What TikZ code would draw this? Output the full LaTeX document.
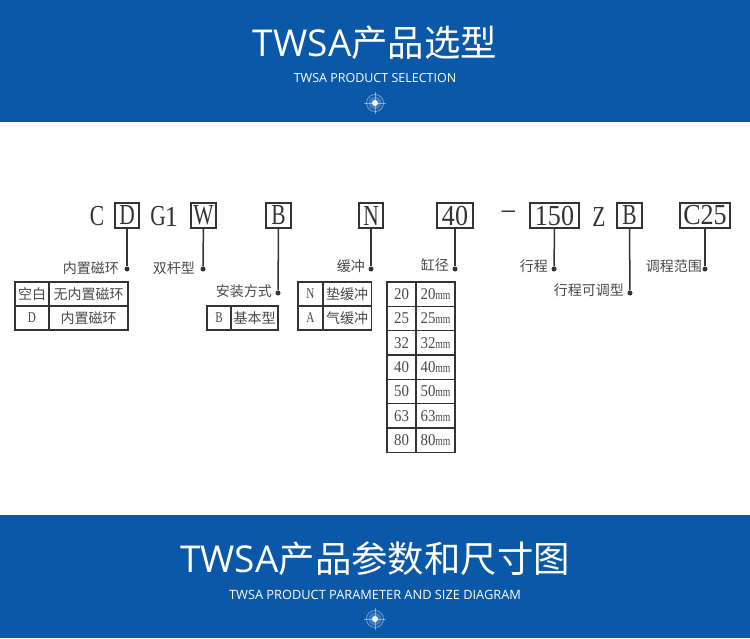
\documentclass[tikz,border=0pt]{standalone}
\usepackage{fontspec}
\setmainfont{Liberation Serif}
\newfontfamily\cjk{Noto Sans CJK SC}
\newfontfamily\titlefont{Open Sans}
\newfontfamily\letterfont{Liberation Serif}[FakeStretch=0.74]
\newfontfamily\digitfont{Liberation Serif}[FakeStretch=0.9]
\definecolor{band}{HTML}{0B57A8}
\definecolor{ink}{HTML}{333333}
\definecolor{softink}{HTML}{4A4A4A}
\usetikzlibrary{calc}
\tikzset{
  x=1pt,y=-1pt,
  bandbox/.style={fill=band,draw=none},
  title/.style={text=white,inner sep=0},
  subtitle/.style={text=white,inner sep=0},
  codebox/.style={draw=ink,line width=1.3pt,inner sep=0,text=ink,minimum height=25pt},
  codetext/.style={inner sep=0,text=ink},
  lead/.style={draw=ink,line width=1.5pt},
  tip/.style={circle,fill=ink,inner sep=0,minimum size=5pt},
  lab/.style={inner sep=0,text=softink,font=\fontsize{14}{14}\cjk},
  cell/.style={draw=ink,line width=1.3pt,inner sep=0,text=softink,font=\fontsize{14}{14}\cjk,minimum height=24pt},
  lettercell/.style={cell,font=\fontsize{15}{15}\letterfont},
  numcell/.style={cell,minimum height=24.3pt,font=\fontsize{16.5}{16.5}\digitfont},
}
\newcommand{\bigL}{\fontsize{29}{29}\letterfont}
\newcommand{\bigD}{\fontsize{29}{29}\digitfont}
\newcommand{\ttl}[2]{{\fontsize{37}{37}\titlefont #1}{\fontsize{36.4}{36.4}\cjk #2}}
\newcommand{\targeticon}[1]{%
  \fill[white,opacity=.22] (#1) circle (6.5);
  \fill[white,opacity=.95] (#1) circle (3);
  \draw[white,opacity=.45,line width=.8pt] (#1) circle (8.5);
  \draw[white,opacity=.45,line width=.8pt] ($(#1)+(-11,0)$) -- ($(#1)+(11,0)$) ($(#1)+(0,-11)$) -- ($(#1)+(0,11)$);
}
\begin{document}
\begin{tikzpicture}
\useasboundingbox (0,0) rectangle (750,638);
\fill[white] (0,0) rectangle (750,638);
\fill[bandbox] (0,0) rectangle (750,122);
\fill[bandbox] (0,515) rectangle (750,638);
\node[title] (t1) at (375,43) {\ttl{TWSA}{产品选型}};
\node[subtitle,font=\fontsize{12.5}{13}\titlefont] (s1) at (375,78.5) {TWSA PRODUCT SELECTION};
\coordinate (i1) at (375,103); \targeticon{i1}
\node[title] (t2) at (375,559) {\ttl{TWSA}{产品参数和尺寸图}};
\node[subtitle,font=\fontsize{12.8}{13}\titlefont] (s2) at (375,594.5) {TWSA PRODUCT PARAMETER AND SIZE DIAGRAM};
\coordinate (i2) at (375,619); \targeticon{i2}

% code line
\node[codetext,font=\bigL] (cC) at (97,216.5) {C};
\node[codebox,minimum width=24pt,font=\bigL] (bD) at (127,215.5) {D};
\node[codetext,font=\bigL] (cG) at (158,216.5) {G};
\node[codetext,font=\bigD] (c1) at (171.5,216.5) {1};
\node[codebox,minimum width=25pt,font=\bigL] (bW) at (203.5,215.5) {W};
\node[codebox,minimum width=25pt,font=\bigL] (bB) at (278.5,215.5) {B};
\node[codebox,minimum width=24pt,font=\bigL] (bN) at (371,215.5) {N};
\node[codebox,minimum width=36pt,font=\bigD] (b40) at (455,215.5) {40};
\node[codetext,font=\bigD] (cd) at (508.5,215) {–};
\node[codebox,minimum width=49pt,font=\bigD] (b150) at (554.5,215.5) {150};
\node[codetext,font=\bigL] (cZ) at (599,216.5) {Z};
\node[codebox,minimum width=25pt,font=\bigL] (bB2) at (629.5,215.5) {B};
\node[codebox,minimum width=50pt,font=\bigD] (bC) at (705,215.5) {C25};

% leader dots
\node[tip] (dD) at (127,269) {};
\node[tip] (dW) at (203,269) {};
\node[tip] (dB) at (278,293) {};
\node[tip] (dN) at (371,269) {};
\node[tip] (d40) at (455,269) {};
\node[tip] (d150) at (554,269) {};
\node[tip] (dB2) at (630,293) {};
\node[tip] (dC) at (705,269) {};
\draw[lead] (bD) -- (dD);
\draw[lead] (bW) -- (dW);
\draw[lead] (bB.south) -- (dB);
\draw[lead] (bN) -- (dN);
\draw[lead] (b40) -- (d40);
\draw[lead] (b150.south) -- (d150);
\draw[lead] (bB2.south) -- (dB2);
\draw[lead] (bC) -- (dC);

% labels
\node[lab,anchor=east] (lD) at (119,268) {内置磁环};
\node[lab,anchor=east] (lW) at (195,268) {双杆型};
\node[lab,anchor=east] (lB) at (272,291) {安装方式};
\node[lab,anchor=east] (lN) at (365,266) {缓冲};
\node[lab,anchor=east] (l40) at (449,265) {缸径};
\node[lab,anchor=east] (l150) at (548,266) {行程};
\node[lab,anchor=east] (lB2) at (624,290) {行程可调型};
\node[lab,anchor=east] (lC) at (702,266) {调程范围};

% table 1
\node[cell,minimum width=34pt] (a1) at (32,294) {空白};
\node[cell,minimum width=79pt] (a2) at (88.5,294) {无内置磁环};
\node[lettercell,minimum width=34pt] (a3) at (32,318) {D};
\node[cell,minimum width=79pt] (a4) at (88.5,318) {内置磁环};
% table 2
\node[lettercell,minimum width=24pt] (c1b) at (219,318) {B};
\node[cell,minimum width=47pt] (c2) at (254.5,318) {基本型};
% table 3
\node[lettercell,minimum width=25pt] (e1) at (310.5,294) {N};
\node[cell,minimum width=48.5pt] (e2) at (347.2,294) {垫缓冲};
\node[lettercell,minimum width=25pt] (e3) at (310.5,318) {A};
\node[cell,minimum width=48.5pt] (e4) at (347.2,318) {气缓冲};
% table 4
\foreach \v [count=\i from 0] in {20,25,32,40,50,63,80}{
  \pgfmathsetmacro{\yy}{294.2+24.3*\i}
  \node[numcell,minimum width=29pt] (f\i) at (401.5,\yy) {\v};
  \node[numcell,minimum width=39pt] (g\i) at (435.5,\yy) {\v{\fontsize{13}{13}\letterfont mm}};
}
\end{tikzpicture}
\end{document}
